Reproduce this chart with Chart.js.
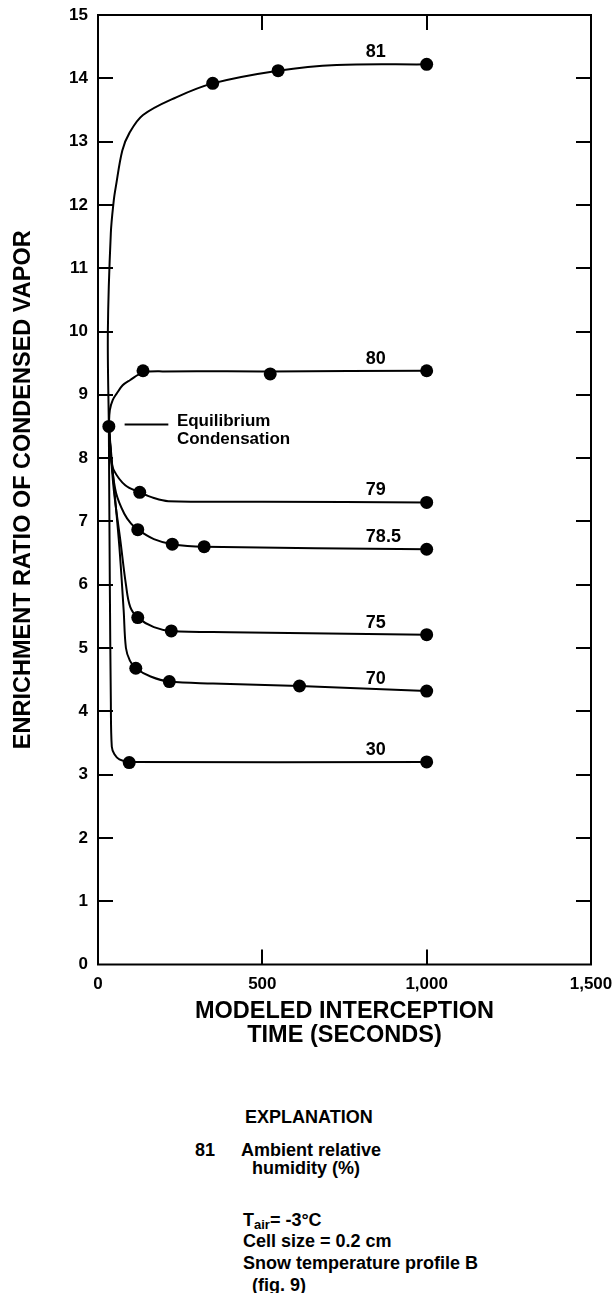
<!DOCTYPE html>
<html lang="en">
<head>
<meta charset="UTF-8">
<title>Enrichment ratio of condensed vapor</title>
<script src="https://cdn.jsdelivr.net/npm/chart.js"></script>
<style>
    body {
        margin: 0;
        background: #fff;
        color: #000;
        font-family: 'Liberation Sans', Arial, Helvetica, sans-serif;
    }
    .wrap {
        position: relative;
        width: 614px;
        height: 1293px;
    }
    .chart-box {
        position: absolute;
        left: 0;
        top: 0;
        width: 614px;
        height: 1060px;
    }
    .note {
        position: absolute;
        font-weight: bold;
        font-size: 18px;
        line-height: 20px;
        white-space: nowrap;
    }
    .note sub {
        font-size: 13px;
        vertical-align: -3px;
        line-height: 0;
    }
</style>
</head>
<body>
<div class="wrap">
    <div class="chart-box"><canvas id="ratioChart"></canvas></div>

    <div class="note" style="left:245px; top:1107px;">EXPLANATION</div>
    <div class="note" style="left:195px; top:1140px;">81</div>
    <div class="note" style="left:241px; top:1140px;">Ambient relative</div>
    <div class="note" style="left:252px; top:1158px;">humidity (%)</div>
    <div class="note" style="left:243px; top:1210px;">T<sub>air</sub>= -3°C</div>
    <div class="note" style="left:243px; top:1231px;">Cell size = 0.2 cm</div>
    <div class="note" style="left:243px; top:1253px;">Snow temperature profile B</div>
    <div class="note" style="left:252px; top:1275px;">(fig. 9)</div>
</div>

<script>
    // relative humidity of each run (curve labels)
    const humidity = ['81', '80', '79', '78.5', '75', '70', '30'];

    // equilibrium condensation start point
    const eqTime = [33];
    const eqRatio = [8.5];

    // 81 %
    const time81 = [33, 30, 39, 48, 54, 74, 95, 137, 238, 349, 548, 726, 1000];
    const ratio81 = [8.5, 10.0, 11.55, 12.07, 12.28, 12.86, 13.13, 13.42, 13.70, 13.92, 14.12, 14.21, 14.22];
    const dotTime81 = [349, 548, 1000];
    const dotRatio81 = [13.92, 14.12, 14.22];

    // 80 %
    const time80 = [33, 36, 45, 57, 75, 97, 137, 200, 524, 1000];
    const ratio80 = [8.5, 8.76, 8.92, 9.02, 9.15, 9.23, 9.35, 9.37, 9.37, 9.38];
    const dotTime80 = [137, 524, 1000];
    const dotRatio80 = [9.38, 9.33, 9.38];

    // 79 %
    const time79 = [33, 40, 48, 83, 127, 170, 214, 500, 1000];
    const ratio79 = [8.5, 8.0, 7.81, 7.57, 7.46, 7.37, 7.32, 7.31, 7.30];
    const dotTime79 = [127, 1000];
    const dotRatio79 = [7.46, 7.30];

    // 78.5 %
    const time785 = [33, 42, 55, 80, 100, 121, 170, 226, 323, 1000];
    const ratio785 = [8.5, 7.9, 7.45, 7.12, 6.97, 6.87, 6.72, 6.64, 6.60, 6.56];
    const dotTime785 = [121, 226, 323, 1000];
    const dotRatio785 = [6.87, 6.64, 6.60, 6.56];

    // 75 %
    const time75 = [33, 48, 68, 85, 98, 121, 170, 223, 400, 1000];
    const ratio75 = [8.5, 7.5, 6.7, 6.0, 5.65, 5.48, 5.33, 5.27, 5.25, 5.21];
    const dotTime75 = [121, 223, 1000];
    const dotRatio75 = [5.48, 5.27, 5.21];

    // 70 %
    const time70 = [33, 48, 65, 78, 85, 97, 115, 160, 217, 350, 613, 1000];
    const ratio70 = [8.5, 7.6, 6.6, 5.6, 5.0, 4.8, 4.68, 4.55, 4.47, 4.44, 4.40, 4.32];
    const dotTime70 = [115, 217, 613, 1000];
    const dotRatio70 = [4.68, 4.47, 4.40, 4.32];

    // 30 %
    const time30 = [33, 36, 39, 42, 50, 65, 95, 1000];
    const ratio30 = [8.5, 6.0, 4.2, 3.44, 3.32, 3.24, 3.2, 3.2];
    const dotTime30 = [95, 1000];
    const dotRatio30 = [3.19, 3.2];

    const yTicks = [0, 15, 1];
    const xTicks = [0, 1500, 500];

    const FONT = '"Liberation Sans", Arial, sans-serif';

    function pts(xs, ys) {
        return xs.map((x, i) => ({ x: x, y: ys[i] }));
    }

    const runs = [
        [time81, ratio81, dotTime81, dotRatio81],
        [time80, ratio80, dotTime80, dotRatio80],
        [time79, ratio79, dotTime79, dotRatio79],
        [time785, ratio785, dotTime785, dotRatio785],
        [time75, ratio75, dotTime75, dotRatio75],
        [time70, ratio70, dotTime70, dotRatio70],
        [time30, ratio30, dotTime30, dotRatio30]
    ];

    const datasets = [];
    runs.forEach((r, i) => {
        datasets.push({
            label: humidity[i],
            data: pts(r[0], r[1]),
            showLine: true,
            borderColor: '#000',
            borderWidth: 2,
            pointRadius: 0,
            tension: 0.35
        });
        datasets.push({
            label: humidity[i] + ' dots',
            data: pts(r[2], r[3]),
            showLine: false,
            pointRadius: 6.5,
            pointBackgroundColor: '#000',
            pointBorderWidth: 0
        });
    });
    datasets.push({
        label: 'equilibrium',
        data: pts(eqTime, eqRatio),
        showLine: false,
        pointRadius: 6.5,
        pointBackgroundColor: '#000',
        pointBorderWidth: 0
    });

    // frame, inward ticks, curve labels, equilibrium note
    const framePlugin = {
        id: 'frame',
        afterDatasetsDraw(chart) {
            const { ctx, chartArea: a, scales: { x, y } } = chart;
            ctx.save();
            ctx.strokeStyle = '#000';
            ctx.lineWidth = 2;
            ctx.strokeRect(a.left, a.top, a.right - a.left, a.bottom - a.top);

            const tl = 15;
            ctx.beginPath();
            y.ticks.forEach(t => {
                if (t.value <= yTicks[0] || t.value >= yTicks[1]) return;
                const py = Math.round(y.getPixelForValue(t.value));
                ctx.moveTo(a.left, py); ctx.lineTo(a.left + tl, py);
                ctx.moveTo(a.right, py); ctx.lineTo(a.right - tl, py);
            });
            x.ticks.forEach(t => {
                if (t.value <= xTicks[0] || t.value >= xTicks[1]) return;
                const px = Math.round(x.getPixelForValue(t.value));
                ctx.moveTo(px, a.bottom); ctx.lineTo(px, a.bottom - tl);
                ctx.moveTo(px, a.top); ctx.lineTo(px, a.top + tl);
            });
            ctx.stroke();

            // humidity labels above the end of each curve
            ctx.fillStyle = '#000';
            ctx.font = 'bold 18px ' + FONT;
            ctx.textAlign = 'left';
            ctx.textBaseline = 'alphabetic';
            runs.forEach((r, i) => {
                const last = r[3][r[3].length - 1];
                ctx.fillText(humidity[i], x.getPixelForValue(815), y.getPixelForValue(last) - 7);
            });

            // equilibrium condensation note
            const ny = y.getPixelForValue(8.53);
            ctx.beginPath();
            ctx.moveTo(x.getPixelForValue(81), ny);
            ctx.lineTo(x.getPixelForValue(214), ny);
            ctx.stroke();
            ctx.font = 'bold 17px ' + FONT;
            ctx.textBaseline = 'middle';
            ctx.fillText('Equilibrium', x.getPixelForValue(240), ny - 3);
            ctx.fillText('Condensation', x.getPixelForValue(240), ny + 15);
            ctx.restore();
        }
    };

    new Chart(document.getElementById('ratioChart'), {
        type: 'scatter',
        data: { datasets: datasets },
        options: {
            responsive: true,
            maintainAspectRatio: false,
            animation: false,
            layout: { padding: { top: 15, right: 23, left: 0, bottom: 0 } },
            plugins: {
                legend: { display: false },
                tooltip: { enabled: false }
            },
            scales: {
                x: {
                    type: 'linear',
                    min: xTicks[0],
                    max: xTicks[1],
                    afterFit: s => { s.height = 95.5; s.paddingLeft = 0; s.paddingRight = 0; },
                    grid: { display: false, drawTicks: false },
                    border: { display: false },
                    ticks: {
                        stepSize: xTicks[2],
                        padding: 10,
                        color: '#000',
                        font: { family: FONT, size: 17, weight: 'bold' },
                        callback: v => v.toLocaleString('en-US')
                    },
                    title: {
                        display: true,
                        text: ['MODELED INTERCEPTION', 'TIME (SECONDS)'],
                        color: '#000',
                        font: { family: FONT, size: 23.5, weight: 'bold', lineHeight: 1.0 },
                        padding: { top: 0, bottom: 13 }
                    }
                },
                y: {
                    min: yTicks[0],
                    max: yTicks[1],
                    afterFit: s => { s.width = 98; s.paddingTop = 0; s.paddingBottom = 0; },
                    grid: { display: false, drawTicks: false },
                    border: { display: false },
                    ticks: {
                        stepSize: yTicks[2],
                        padding: 10,
                        color: '#000',
                        font: { family: FONT, size: 17, weight: 'bold' }
                    },
                    title: {
                        display: true,
                        text: 'ENRICHMENT RATIO OF CONDENSED VAPOR',
                        color: '#000',
                        font: { family: FONT, size: 23.5, weight: 'bold', lineHeight: 1.0 },
                        padding: { top: 12, bottom: 0 }
                    }
                }
            }
        },
        plugins: [framePlugin]
    });
</script>
</body>
</html>
